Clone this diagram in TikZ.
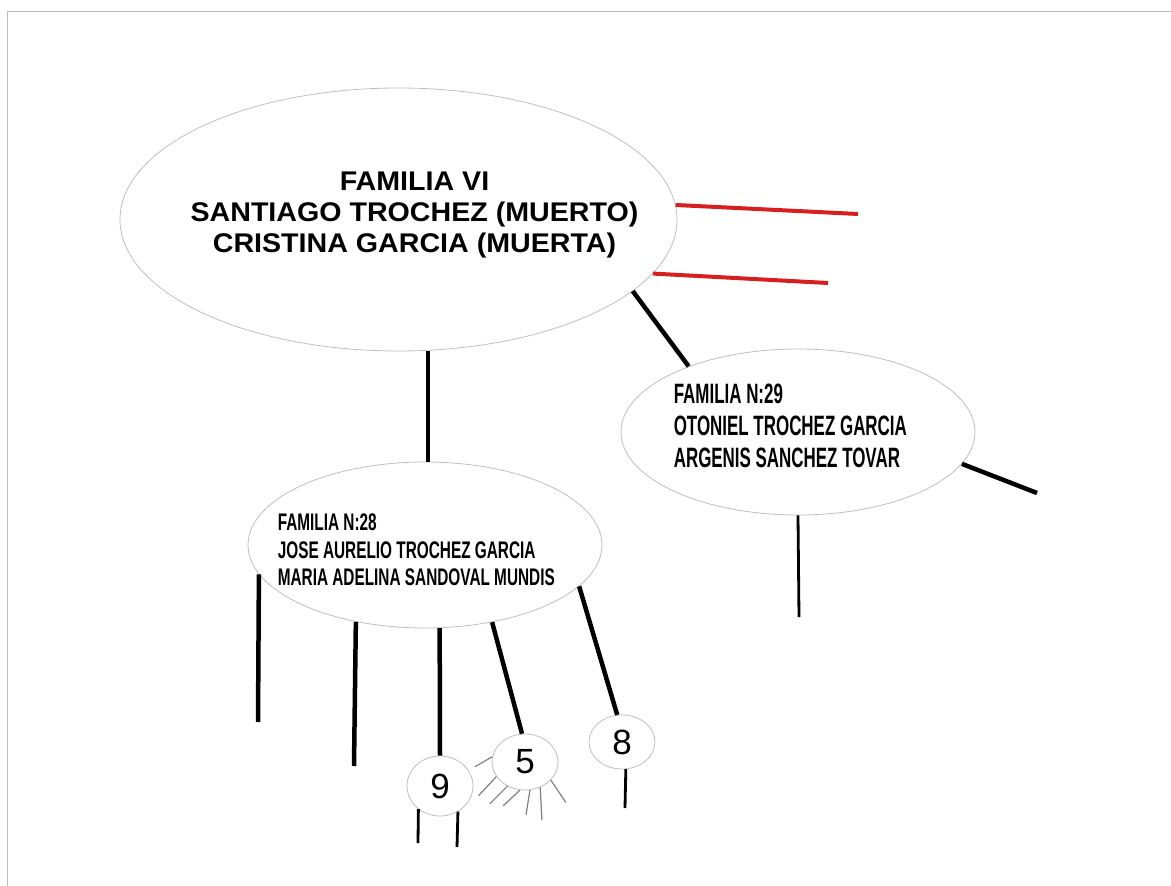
\documentclass[tikz,border=0pt]{standalone}
\usepackage{fontspec}
\setmainfont{Liberation Sans}
\newfontfamily\widefont{Liberation Sans}[FakeStretch=1.06]
\newfontfamily\narrowfont{Liberation Sans}[FakeStretch=0.64]
\newfontfamily\narrowerfont{Liberation Sans}[FakeStretch=0.605]
\usetikzlibrary{shapes.geometric}
\definecolor{rimgray}{RGB}{190,190,190}
\definecolor{linered}{RGB}{214,32,32}
\begin{document}
\begin{tikzpicture}[x=1pt,y=-1pt,
  fam/.style={draw=rimgray,line width=0.8pt,ellipse,inner sep=0pt},
  kid/.style={draw=rimgray,line width=0.8pt,ellipse,inner sep=0pt,minimum width=66pt,font=\fontsize{35}{35}\selectfont},
  bond/.style={line width=4.5pt},
  wed/.style={line width=4pt,draw=linered},
  leg/.style={line width=2.8pt},
  ray/.style={line width=1.2pt,draw=gray}]
\useasboundingbox (0,0) rectangle (1171,886);
\draw[rimgray,line width=1.5pt] (7.5,886) -- (7.5,11.5) -- (1171,11.5);
% familias
\node[fam,minimum width=557pt,minimum height=263pt] (main) at (398.5,219.5) {};
\node[font=\widefont\bfseries\fontsize{27}{31}\selectfont,align=center] (maintxt) at ([shift={(16,-4)}]main.center)
  {FAMILIA VI\\SANTIAGO TROCHEZ (MUERTO)\\CRISTINA GARCIA (MUERTA)};
\node[fam,minimum width=354pt,minimum height=166pt] (f29) at (798,432) {};
\node[font=\narrowerfont\bfseries\fontsize{28}{31.7}\selectfont,align=left,anchor=west,inner sep=0pt] (t29) at ([shift={(53,-6)}]f29.west)
  {FAMILIA N:29\\OTONIEL TROCHEZ GARCIA\\ARGENIS SANCHEZ TOVAR};
\node[fam,minimum width=354pt,minimum height=166pt] (f28) at (425,545) {};
\node[font=\narrowfont\bfseries\fontsize{24}{27.5}\selectfont,align=left,anchor=west,inner sep=0pt] (t28) at ([shift={(30,5)}]f28.west)
  {FAMILIA N:28\\JOSE AURELIO TROCHEZ GARCIA\\MARIA ADELINA SANDOVAL MUNDIS};
% hijos
\node[kid,minimum height=60pt] (nine) at (440,786) {9};
\node[kid,minimum height=56pt] (five) at (525,762) {5};
\node[kid,minimum height=54pt] (eight) at (622,742) {8};
% lineas
\coordinate (r1) at (858,214);
\coordinate (r2) at (828,283);
\coordinate (s1) at (1037,493);
\coordinate (s2) at (799,617);
\coordinate (k1) at (258,722);
\coordinate (k2) at (354,766);
\coordinate (n1) at (418,843);
\coordinate (n2) at (457,847);
\coordinate (e1) at (625,808);
\draw[wed] (main.3) -- (r1);
\draw[wed] (main.348) -- (r2);
\draw[bond] (main.343) -- (f29.149);
\draw[bond] (main.south -| f28.88) -- (f28.88);
\draw[bond] (f29.349) -- (s1);
\draw[leg] (f29.south) -- (s2);
\draw[bond] (f28.190) -- (k1);
\draw[bond] (f28.228) -- (k2);
\draw[bond] (f28.280) -- (nine.north);
\draw[bond] (f28.311) -- (five.96);
\draw[bond] (f28.345) -- (eight.100);
\draw[leg] (nine.227) -- (n1);
\draw[leg] (nine.305) -- (n2);
\draw[leg] (eight.278) -- (e1);
\foreach \a/\d/\l in {171/210/20,207/227/26,234/225/25,260/223/23,280/261/25,301/273/33,325/304/27}
  \draw[ray] (five.\a) -- ++(\d:\l pt);
\end{tikzpicture}
\end{document}
